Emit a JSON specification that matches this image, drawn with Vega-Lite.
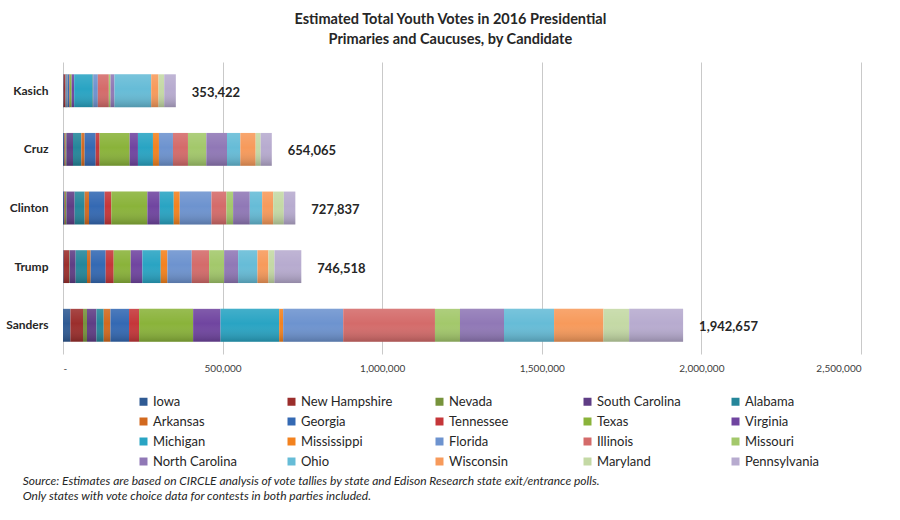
{
  "$schema": "https://vega.github.io/schema/vega-lite/v6.json",
  "padding": {"left": 5, "top": 11, "right": 20, "bottom": 5},
  "background": "white",
  "title": {
    "text": ["Estimated Total Youth Votes in 2016 Presidential", "Primaries and Caucuses, by Candidate"],
    "font": "Lato", "fontSize": 14.5, "fontWeight": "bold", "color": "#262626",
    "lineHeight": 20, "anchor": "middle", "offset": 15, "dx": 17
  },
  "datasets": {
    "votes": [
      {"candidate": "Kasich", "state": "Iowa", "votes": 2000},
      {"candidate": "Kasich", "state": "New Hampshire", "votes": 5000},
      {"candidate": "Kasich", "state": "Nevada", "votes": 1000},
      {"candidate": "Kasich", "state": "South Carolina", "votes": 3000},
      {"candidate": "Kasich", "state": "Alabama", "votes": 2000},
      {"candidate": "Kasich", "state": "Arkansas", "votes": 1000},
      {"candidate": "Kasich", "state": "Georgia", "votes": 5000},
      {"candidate": "Kasich", "state": "Tennessee", "votes": 2000},
      {"candidate": "Kasich", "state": "Texas", "votes": 6000},
      {"candidate": "Kasich", "state": "Virginia", "votes": 8000},
      {"candidate": "Kasich", "state": "Michigan", "votes": 58500},
      {"candidate": "Kasich", "state": "Mississippi", "votes": 1000},
      {"candidate": "Kasich", "state": "Florida", "votes": 14600},
      {"candidate": "Kasich", "state": "Illinois", "votes": 34500},
      {"candidate": "Kasich", "state": "Missouri", "votes": 5200},
      {"candidate": "Kasich", "state": "North Carolina", "votes": 12500},
      {"candidate": "Kasich", "state": "Ohio", "votes": 115000},
      {"candidate": "Kasich", "state": "Wisconsin", "votes": 23000},
      {"candidate": "Kasich", "state": "Maryland", "votes": 17800},
      {"candidate": "Kasich", "state": "Pennsylvania", "votes": 36322},
      {"candidate": "Cruz", "state": "Iowa", "votes": 4200},
      {"candidate": "Cruz", "state": "New Hampshire", "votes": 3100},
      {"candidate": "Cruz", "state": "Nevada", "votes": 3100},
      {"candidate": "Cruz", "state": "South Carolina", "votes": 20900},
      {"candidate": "Cruz", "state": "Alabama", "votes": 26000},
      {"candidate": "Cruz", "state": "Arkansas", "votes": 10500},
      {"candidate": "Cruz", "state": "Georgia", "votes": 34500},
      {"candidate": "Cruz", "state": "Tennessee", "votes": 12500},
      {"candidate": "Cruz", "state": "Texas", "votes": 94000},
      {"candidate": "Cruz", "state": "Virginia", "votes": 26000},
      {"candidate": "Cruz", "state": "Michigan", "votes": 47000},
      {"candidate": "Cruz", "state": "Mississippi", "votes": 18800},
      {"candidate": "Cruz", "state": "Florida", "votes": 43900},
      {"candidate": "Cruz", "state": "Illinois", "votes": 47000},
      {"candidate": "Cruz", "state": "Missouri", "votes": 57500},
      {"candidate": "Cruz", "state": "North Carolina", "votes": 64800},
      {"candidate": "Cruz", "state": "Ohio", "votes": 41800},
      {"candidate": "Cruz", "state": "Wisconsin", "votes": 48000},
      {"candidate": "Cruz", "state": "Maryland", "votes": 15700},
      {"candidate": "Cruz", "state": "Pennsylvania", "votes": 34765},
      {"candidate": "Clinton", "state": "Iowa", "votes": 4200},
      {"candidate": "Clinton", "state": "New Hampshire", "votes": 2100},
      {"candidate": "Clinton", "state": "Nevada", "votes": 4200},
      {"candidate": "Clinton", "state": "South Carolina", "votes": 26000},
      {"candidate": "Clinton", "state": "Alabama", "votes": 31400},
      {"candidate": "Clinton", "state": "Arkansas", "votes": 13600},
      {"candidate": "Clinton", "state": "Georgia", "votes": 49000},
      {"candidate": "Clinton", "state": "Tennessee", "votes": 20900},
      {"candidate": "Clinton", "state": "Texas", "votes": 112900},
      {"candidate": "Clinton", "state": "Virginia", "votes": 38700},
      {"candidate": "Clinton", "state": "Michigan", "votes": 43900},
      {"candidate": "Clinton", "state": "Mississippi", "votes": 18800},
      {"candidate": "Clinton", "state": "Florida", "votes": 99300},
      {"candidate": "Clinton", "state": "Illinois", "votes": 47000},
      {"candidate": "Clinton", "state": "Missouri", "votes": 20900},
      {"candidate": "Clinton", "state": "North Carolina", "votes": 52300},
      {"candidate": "Clinton", "state": "Ohio", "votes": 38700},
      {"candidate": "Clinton", "state": "Wisconsin", "votes": 34500},
      {"candidate": "Clinton", "state": "Maryland", "votes": 33400},
      {"candidate": "Clinton", "state": "Pennsylvania", "votes": 36037},
      {"candidate": "Trump", "state": "Iowa", "votes": 2100},
      {"candidate": "Trump", "state": "New Hampshire", "votes": 16700},
      {"candidate": "Trump", "state": "Nevada", "votes": 2000},
      {"candidate": "Trump", "state": "South Carolina", "votes": 18900},
      {"candidate": "Trump", "state": "Alabama", "votes": 35500},
      {"candidate": "Trump", "state": "Arkansas", "votes": 11500},
      {"candidate": "Trump", "state": "Georgia", "votes": 47000},
      {"candidate": "Trump", "state": "Tennessee", "votes": 25100},
      {"candidate": "Trump", "state": "Texas", "votes": 53300},
      {"candidate": "Trump", "state": "Virginia", "votes": 36600},
      {"candidate": "Trump", "state": "Michigan", "votes": 57500},
      {"candidate": "Trump", "state": "Mississippi", "votes": 20900},
      {"candidate": "Trump", "state": "Florida", "votes": 76300},
      {"candidate": "Trump", "state": "Illinois", "votes": 54300},
      {"candidate": "Trump", "state": "Missouri", "votes": 47000},
      {"candidate": "Trump", "state": "North Carolina", "votes": 43900},
      {"candidate": "Trump", "state": "Ohio", "votes": 60600},
      {"candidate": "Trump", "state": "Wisconsin", "votes": 34500},
      {"candidate": "Trump", "state": "Maryland", "votes": 18800},
      {"candidate": "Trump", "state": "Pennsylvania", "votes": 84018},
      {"candidate": "Sanders", "state": "Iowa", "votes": 23200},
      {"candidate": "Sanders", "state": "New Hampshire", "votes": 39500},
      {"candidate": "Sanders", "state": "Nevada", "votes": 12500},
      {"candidate": "Sanders", "state": "South Carolina", "votes": 29500},
      {"candidate": "Sanders", "state": "Alabama", "votes": 22900},
      {"candidate": "Sanders", "state": "Arkansas", "votes": 21000},
      {"candidate": "Sanders", "state": "Georgia", "votes": 58300},
      {"candidate": "Sanders", "state": "Tennessee", "votes": 31400},
      {"candidate": "Sanders", "state": "Texas", "votes": 169300},
      {"candidate": "Sanders", "state": "Virginia", "votes": 85900},
      {"candidate": "Sanders", "state": "Michigan", "votes": 183700},
      {"candidate": "Sanders", "state": "Mississippi", "votes": 12500},
      {"candidate": "Sanders", "state": "Florida", "votes": 188100},
      {"candidate": "Sanders", "state": "Illinois", "votes": 287500},
      {"candidate": "Sanders", "state": "Missouri", "votes": 78400},
      {"candidate": "Sanders", "state": "North Carolina", "votes": 137900},
      {"candidate": "Sanders", "state": "Ohio", "votes": 156800},
      {"candidate": "Sanders", "state": "Wisconsin", "votes": 154600},
      {"candidate": "Sanders", "state": "Maryland", "votes": 80600},
      {"candidate": "Sanders", "state": "Pennsylvania", "votes": 169057}
    ]
  },
  "resolve": {"legend": {"color": "independent"}},
  "vconcat": [
    {
      "width": 798,
      "height": 292,
      "title": {
        "text": ["Source:  Estimates are based on CIRCLE analysis of vote tallies by state and Edison Research state exit/entrance polls.", "Only states with vote choice data for contests in both parties included."],
        "orient": "bottom", "anchor": "start", "font": "Lato", "fontSize": 12,
        "fontStyle": "italic", "fontWeight": "normal", "color": "#262626",
        "lineHeight": 15, "offset": 7, "dx": 17
      },
      "layer": [
        {
          "data": {"name": "votes"},
          "transform": [
            {"calculate": "indexof(['Iowa','New Hampshire','Nevada','South Carolina','Alabama','Arkansas','Georgia','Tennessee','Texas','Virginia','Michigan','Mississippi','Florida','Illinois','Missouri','North Carolina','Ohio','Wisconsin','Maryland','Pennsylvania'], datum.state)", "as": "k"}
          ],
          "mark": {"type": "bar"},
          "encoding": {
            "y": {
              "field": "candidate", "type": "nominal",
              "scale": {"domain": ["Kasich", "Cruz", "Clinton", "Trump", "Sanders"], "paddingInner": 0.44, "paddingOuter": 0.21},
              "axis": {"title": null}
            },
            "x": {
              "field": "votes", "type": "quantitative", "stack": "zero",
              "scale": {"domain": [0, 2500000], "nice": false},
              "axis": {
                "title": null,
                "values": [0, 500000, 1000000, 1500000, 2000000, 2500000],
                "labelExpr": "datum.value === 0 ? '-' : format(datum.value, ',')"
              }
            },
            "color": {
              "field": "state", "type": "nominal",
              "scale": {
                "domain": ["Iowa","New Hampshire","Nevada","South Carolina","Alabama","Arkansas","Georgia","Tennessee","Texas","Virginia","Michigan","Mississippi","Florida","Illinois","Missouri","North Carolina","Ohio","Wisconsin","Maryland","Pennsylvania"],
                "range": ["#2F5A93","#9B2E2C","#77933C","#5F3D85","#25869A","#D2691E","#3469B3","#C53639","#8AB33A","#7045A0","#29A4C3","#F3821F","#6D93CF","#D46B6A","#A3C86B","#9078B6","#66BCD7","#F79A5B","#C4D9A5","#B7ABCF"]
              },
              "legend": {
                "title": null, "orient": "none", "legendX": 74, "legendY": 333,
                "direction": "horizontal",
                "columns": 5, "gridAlign": "all", "columnPadding": 40, "rowPadding": 6,
                "symbolType": "square", "symbolSize": 64, "symbolStrokeWidth": 0,
                "labelFont": "Lato", "labelFontSize": 13, "labelColor": "#262626",
                "labelOffset": 3, "padding": 0
              }
            },
            "order": {"field": "k", "type": "quantitative"}
          }
        },
        {
          "data": {"name": "votes"},
          "transform": [{"aggregate": [{"op": "sum", "field": "votes", "as": "total"}], "groupby": ["candidate"]}],
          "mark": {
            "type": "bar",
            "fill": {"gradient": "linear", "x1": 0, "y1": 0, "x2": 0, "y2": 1,
              "stops": [
                {"offset": 0, "color": "rgba(255,255,255,0.12)"},
                {"offset": 0.45, "color": "rgba(255,255,255,0)"},
                {"offset": 1, "color": "rgba(0,0,0,0.2)"}
              ]}
          },
          "encoding": {
            "y": {"field": "candidate", "type": "nominal"},
            "x": {"field": "total", "type": "quantitative"}
          }
        },
        {
          "data": {"name": "votes"},
          "transform": [{"aggregate": [{"op": "sum", "field": "votes", "as": "total"}], "groupby": ["candidate"]}],
          "mark": {"type": "text", "align": "left", "baseline": "middle", "dx": 16, "dy": 2, "font": "Lato", "fontSize": 13, "fontWeight": "bold", "color": "#262626"},
          "encoding": {
            "y": {"field": "candidate", "type": "nominal"},
            "x": {"field": "total", "type": "quantitative"},
            "text": {"field": "total", "type": "quantitative", "format": ","}
          }
        }
      ]
    }
  ],
  "config": {
    "view": {"stroke": null},
    "axisX": {
      "domain": false, "ticks": false, "grid": true, "gridColor": "#c9c9c9", "gridWidth": 1,
      "labelFont": "Lato", "labelFontSize": 10, "labelColor": "#404040", "labelPadding": 9
    },
    "axisY": {
      "domain": false, "ticks": false, "grid": false,
      "labelFont": "Lato", "labelFontSize": 12, "labelFontWeight": "bold", "labelColor": "#262626",
      "labelPadding": 15, "minExtent": 57, "maxExtent": 57
    }
  }
}
